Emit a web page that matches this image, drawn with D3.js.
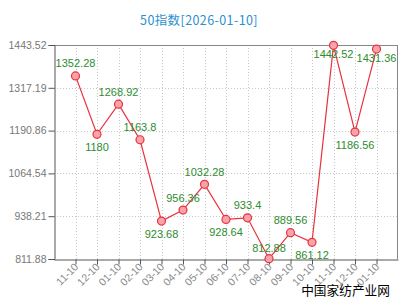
<!DOCTYPE html>
<html><head><meta charset="utf-8">
<script src="https://cdn.jsdelivr.net/npm/d3@7"></script>
<style>body{margin:0;background:#fff}svg{display:block}</style>
</head><body><svg id="c" width="400" height="300"></svg>
<script>
const titleText = "50指数[2026-01-10]";
const categories = ["11-10","12-10","01-10","02-10","03-10","04-10","05-10","06-10","07-10","08-10","09-10","10-10","11-10 ","12-10 ","01-10 "];
const values = [1352.28,1180,1268.92,1163.8,923.68,956.36,1032.28,928.64,933.4,812.88,889.56,861.12,1442.52,1186.56,1431.36];
const yTicks = [811.88,938.21,1064.54,1190.86,1317.19,1443.52];
const watermark = "中国家纺产业网";

const svg = d3.select("#c");
const L=54, R=398, T=45, B=259;
const x = d3.scalePoint().domain(categories).range([L,R]).padding(1);
const y = d3.scaleLinear().domain([yTicks[0], yTicks[yTicks.length-1]]).range([B,T]);

svg.append("text").attr("x",199).attr("y",25).attr("text-anchor","middle")
  .attr("font-family","'Noto Sans CJK SC', sans-serif").attr("font-size",12.5).attr("letter-spacing",0.4)
  .attr("fill","#2a8fd0").text(titleText);

// grid
const g = svg.append("g");
g.selectAll(".hg").data(yTicks.slice(1,-1)).join("line")
  .attr("x1",L).attr("x2",R).attr("y1",d=>Math.round(y(d))+0.5).attr("y2",d=>Math.round(y(d))+0.5)
  .attr("stroke","#c8c8c8").attr("stroke-dasharray","1,2");
g.selectAll(".vg").data(categories).join("line")
  .attr("x1",d=>Math.round(x(d))+0.5).attr("x2",d=>Math.round(x(d))+0.5).attr("y1",T).attr("y2",B)
  .attr("stroke","#c8c8c8").attr("stroke-dasharray","1,2");
// border top/right
svg.append("line").attr("x1",L).attr("x2",R).attr("y1",T+0.5).attr("y2",T+0.5).attr("stroke","#888");
svg.append("line").attr("x1",R-0.5).attr("x2",R-0.5).attr("y1",T).attr("y2",B).attr("stroke","#888");

// axes
const yAxis = d3.axisLeft(y).tickValues(yTicks).tickSize(6).tickPadding(2).tickFormat(d=>d3.format(".2f")(d));
const ya = svg.append("g").attr("transform",`translate(${L+0.5},0)`).call(yAxis);
ya.select(".domain").attr("stroke","#555");
ya.selectAll(".tick line").attr("stroke","#555");
ya.selectAll("text").attr("fill","#777").attr("font-family","'Liberation Sans', Arial, sans-serif").attr("font-size",10.5);

const xAxis = d3.axisBottom(x).tickSize(5).tickSizeOuter(0);
const xa = svg.append("g").attr("transform",`translate(0,${B+0.5})`).call(xAxis);
xa.select(".domain").attr("stroke","#555");
xa.selectAll(".tick line").attr("stroke","#555");
xa.selectAll("text").attr("fill","#888").attr("font-family","'Liberation Sans', Arial, sans-serif").attr("font-size",10.5)
  .attr("text-anchor","end").attr("dy",null).attr("y",0)
  .attr("transform","translate(3,8) rotate(-45)");
xa.selectAll(".tick text").text(d=>d.trim());

// line
const line = d3.line().x((d,i)=>x(categories[i])).y(d=>y(d));
svg.append("path").datum(values).attr("d",line).attr("fill","none").attr("stroke","#e8323c").attr("stroke-width",1.2);
svg.selectAll(".pt").data(values).join("circle")
  .attr("cx",(d,i)=>x(categories[i])).attr("cy",d=>y(d)).attr("r",4)
  .attr("fill","#f7a3ab").attr("stroke","#e8323c").attr("stroke-width",1.2);

// labels
svg.selectAll(".lb").data(values).join("text")
  .attr("x",(d,i)=>x(categories[i]))
  .attr("y",(d,i)=>{
    const py=y(d);
    const prev = i>0?values[i-1]:Infinity, next=i<values.length-1?values[i+1]:Infinity;
    const localMin = d<prev && d<next;
    if (py-T<15) return py+12.5;
    if (B-py<15) return py-7;
    return localMin ? py+16.5 : py-8.5;
  })
  .attr("text-anchor","middle").attr("font-family","'Liberation Sans', Arial, sans-serif").attr("font-size",11)
  .attr("fill","#2e8b2e").text(d=>String(d));

svg.append("text").attr("x",390).attr("y",295).attr("text-anchor","end")
  .attr("font-family","'Noto Sans CJK SC', sans-serif").attr("font-size",12.7).attr("fill","#000").text(watermark);
</script></body></html>
